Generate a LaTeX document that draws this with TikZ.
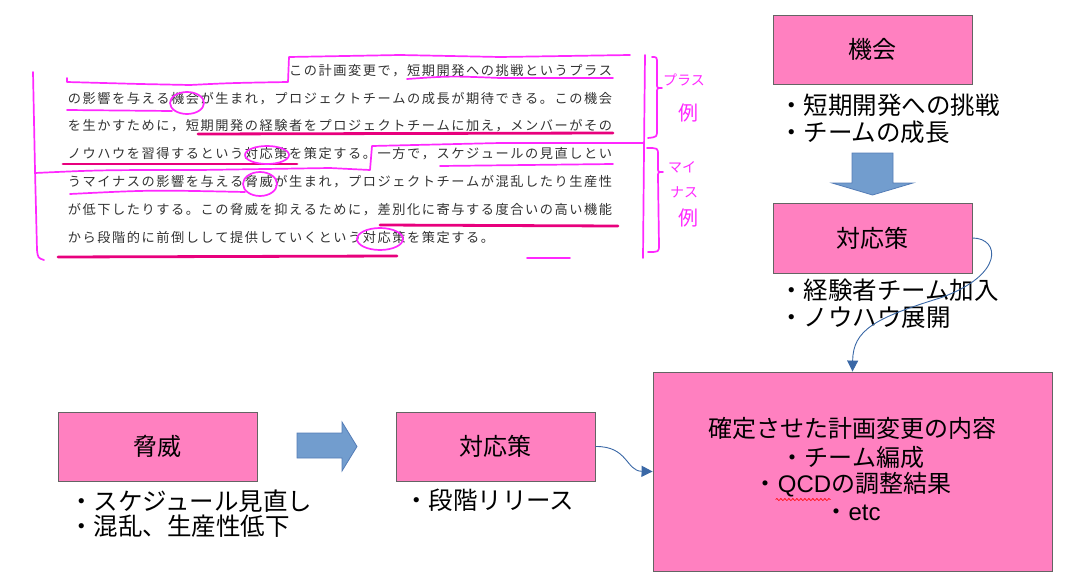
\documentclass[tikz,border=0pt]{standalone}
\usepackage{fontspec}
\setmainfont{Liberation Sans}
\newfontfamily\jp{Noto Sans CJK JP}
\usetikzlibrary{arrows.meta,decorations.pathmorphing}
\definecolor{boxpink}{RGB}{255,128,192}
\definecolor{boxedge}{RGB}{100,100,100}
\definecolor{arrowblue}{RGB}{114,157,206}
\definecolor{arrowedge}{RGB}{84,124,182}
\definecolor{linkblue}{RGB}{58,104,166}
\definecolor{handpink}{RGB}{255,40,255}
\definecolor{underpink}{RGB}{232,0,125}
\definecolor{scangray}{RGB}{50,50,50}
\newcommand\spreadchars[1]{\spreadloop#1\relax}
\def\spreadloop#1{\ifx\relax#1\else\hbox to 14.75pt{\hss#1\hss}\expandafter\spreadloop\fi}
\tikzset{
  pinkbox/.style={draw=boxedge,line width=0.9pt,fill=boxpink,minimum width=199pt,minimum height=69pt,inner sep=0pt,font=\jp\fontsize{24}{28}\selectfont},
  bullettext/.style={anchor=west,inner sep=0pt,font=\jp\fontsize{24.5}{28}\selectfont},
  bigtext/.style={inner sep=0pt,font=\jp\fontsize{24}{28}\selectfont},
  scanline/.style={inner sep=0pt,text=scangray,font=\jp\fontsize{13.2}{15}\selectfont},
  handline/.style={draw=handpink,line width=1.7pt,line cap=round,line join=round},
  underline/.style={draw=underpink,line width=2.8pt,line cap=round},
  handtext/.style={inner sep=0pt,text=handpink,font=\jp\fontsize{14}{16}\selectfont},
  handbig/.style={inner sep=0pt,text=handpink,font=\jp\fontsize{20}{22}\selectfont},
  link/.style={draw=linkblue,line width=0.9pt,-{Triangle[length=11pt,width=11pt]}},
  blockarrow/.style={draw=arrowedge,line width=0.8pt,fill=arrowblue,line join=miter},
}
\begin{document}
\begin{tikzpicture}[x=1pt,y=-1pt]
\useasboundingbox (0,0) rectangle (1073,586);
% ---- scanned text ----
\node[scanline,anchor=east] (l1) at (613,71) {\spreadchars{この計画変更で，短期開発への挑戦というプラス}};
\node[scanline,anchor=west] (l2) at (67,98.5) {\spreadchars{の影響を与える機会が生まれ，プロジェクトチームの成長が期待できる。この機会}};
\node[scanline,anchor=west] (l3) at (67,126) {\spreadchars{を生かすために，短期開発の経験者をプロジェクトチームに加え，メンバーがその}};
\node[scanline,anchor=west] (l4) at (67,154) {\spreadchars{ノウハウを習得するという対応策を策定する。一方で，スケジュールの見直しとい}};
\node[scanline,anchor=west] (l5) at (67,182) {\spreadchars{うマイナスの影響を与える脅威が生まれ，プロジェクトチームが混乱したり生産性}};
\node[scanline,anchor=west] (l6) at (67,210) {\spreadchars{が低下したりする。この脅威を抑えるために，差別化に寄与する度合いの高い機能}};
\node[scanline,anchor=west] (l7) at (67,237.5) {\spreadchars{から段階的に前倒しして提供していくという対応策を策定する。}};
% ---- deep pink underlines ----
\draw[underline] (198,134) -- (613,133);
\draw[underline] (63,164) -- (297,164);
\draw[underline] (380,225) -- (618,226);
\draw[underline] (58,257) -- (397,256);
% ---- handwritten outlines ----
\draw[handline] (67,78) -- (67,82) -- (140,84) -- (190,85) .. controls (230,83) .. (288,82) -- (289,57) -- (400,55) -- (500,57) -- (630,55);
\draw[handline] (645,55) -- (644,150) -- (643,258);
\draw[handline] (33,72) -- (35,170) -- (37,250) .. controls (38,258) .. (44,260);
\draw[handline] (35,173) .. controls (100,170) .. (200,170) -- (330,168) -- (370,170) -- (372,146) -- (500,143) -- (644,143);
\draw[handline] (67,110) -- (172,111);
\draw[handline] (187,103) ellipse [x radius=17pt,y radius=11pt];
\draw[handline] (407,79) .. controls (450,76) .. (500,78) -- (613,78);
\draw[handline] (267,155) ellipse [x radius=22pt,y radius=9pt];
\draw[handline] (440,166) -- (613,164);
\draw[handline] (70,194) .. controls (150,190) .. (245,192);
\draw[handline] (260,184) ellipse [x radius=17pt,y radius=12pt];
\draw[handline] (380,239) ellipse [x radius=23pt,y radius=11pt];
\draw[handline] (527,258) -- (570,258);
% braces
\draw[handline] (652,57) .. controls (657,57) .. (657,64) -- (657,84) .. controls (657,88) .. (662,88) .. controls (657,88) .. (657,93) -- (657,130) .. controls (657,137) .. (648,138);
\draw[handline] (647,148) .. controls (658,148) .. (658,155) -- (658,168) .. controls (658,172) .. (663,172) .. controls (658,172) .. (658,177) -- (659,245) .. controls (659,252) .. (648,252);
\node[handtext] (plus) at (684,80) {プラス};
\node[handbig] (ex1) at (688,113) {例};
\node[handtext] (mai) at (682,167) {マイ};
\node[handtext] (nasu) at (684,192) {ナス};
\node[handbig] (ex2) at (688,218) {例};
% ---- diagram ----
\node[pinkbox] (opp) at (872.5,49.5) {機会};
\node[bullettext] (o1) at (779,105) {・短期開発への挑戦};
\node[bullettext] (o2) at (779,132) {・チームの成長};
\draw[blockarrow] (852,153) -- (893,153) -- (893,183) -- (913,183) -- (872.5,195) -- (832,183) -- (852,183) -- cycle;
\node[pinkbox,minimum height=70pt] (cnt1) at (872.5,238) {対応策};
\node[bullettext] (c1) at (779,290) {・経験者チーム加入};
\node[bullettext] (c2) at (779,318) {・ノウハウ展開};
\node[pinkbox,minimum width=399pt,minimum height=199pt] (big) at (852.5,471.5) {};
\node[bigtext] (b1) at (852.5,428) {確定させた計画変更の内容};
\node[bigtext] (b2) at (852.5,457) {・チーム編成};
\node[bigtext] (b3) at (852.5,485) {・{\rmfamily QCD}の調整結果};
\node[bigtext] (b4) at (852.5,513) {・{\rmfamily etc}};
\draw[red,line width=0.6pt,decorate,decoration={snake,amplitude=1.1pt,segment length=4pt}] ([xshift=22pt,yshift=-2pt]b3.south west) -- ([xshift=77pt,yshift=-2pt]b3.south west);
\node[pinkbox] (thr) at (157.5,446.5) {脅威};
\node[bullettext] (t1) at (69,501) {・スケジュール見直し};
\node[bullettext] (t2) at (69,526) {・混乱、生産性低下};
\draw[blockarrow] (297,433) -- (342,433) -- (342,422) -- (357,446.5) -- (342,471) -- (342,458) -- (297,458) -- cycle;
\node[pinkbox] (cnt2) at (495.5,446.5) {対応策};
\node[bullettext] (s1) at (404,500) {・段階リリース};
% ---- connectors ----
\draw[link] (cnt1.east) .. controls (1000,238) and (1005,275) .. (940,298) .. controls (875,318) and (853,330) .. (big.north);
\draw[link] (cnt2.east) .. controls (628,446) and (626,471) .. (big.west);
\end{tikzpicture}
\end{document}
